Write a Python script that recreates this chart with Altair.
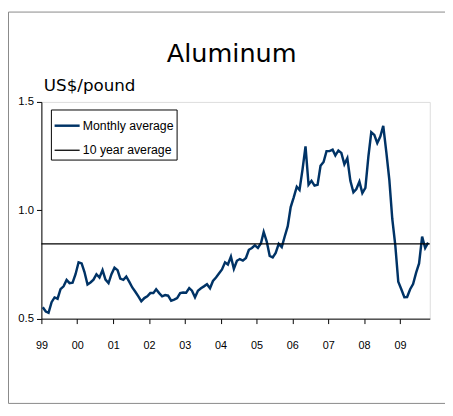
import altair as alt
import pandas as pd

NARROW = "Liberation Sans, Arial, sans-serif"
WIDE = "DejaVu Sans, Verdana, sans-serif"

series_names = ["Monthly average", "10 year average"]
series_colors = ["#003366", "#000000"]
series_widths = [2.5, 1.3]

years = list(range(1999, 2010))
y_ticks = [0.5, 1.0, 1.5]

# US$/pound, monthly averages Jan 1999 - Oct 2009
values = [
    0.553, 0.533, 0.527, 0.576, 0.598, 0.592, 0.636, 0.649, 0.679, 0.664, 0.666, 0.705,  # 1999
    0.760, 0.755, 0.715, 0.658, 0.667, 0.680, 0.705, 0.690, 0.724, 0.680, 0.664, 0.705,  # 2000
    0.735, 0.724, 0.685, 0.679, 0.694, 0.670, 0.644, 0.624, 0.603, 0.580, 0.595, 0.603,  # 2001
    0.618, 0.618, 0.636, 0.618, 0.603, 0.609, 0.606, 0.583, 0.588, 0.595, 0.618, 0.621,  # 2002
    0.620, 0.641, 0.629, 0.599, 0.629, 0.640, 0.649, 0.659, 0.640, 0.674, 0.690, 0.708,  # 2003
    0.727, 0.760, 0.750, 0.786, 0.730, 0.767, 0.775, 0.768, 0.780, 0.818, 0.826, 0.838,  # 2004
    0.826, 0.848, 0.900, 0.856, 0.790, 0.783, 0.803, 0.845, 0.830, 0.879, 0.927, 1.015,  # 2005
    1.060, 1.109, 1.094, 1.190, 1.295, 1.118, 1.136, 1.114, 1.118, 1.205, 1.223, 1.273,  # 2006
    1.273, 1.280, 1.253, 1.276, 1.265, 1.212, 1.240, 1.136, 1.083, 1.098, 1.132, 1.079,  # 2007
    1.103, 1.250, 1.360, 1.348, 1.310, 1.340, 1.390, 1.270, 1.140, 0.960, 0.837, 0.670,  # 2008
    0.636, 0.599, 0.600, 0.636, 0.660, 0.712, 0.755, 0.879, 0.826, 0.851,                # 2009
]
ten_year_average = 0.845

dates = [f"{1999 + i // 12}-{i % 12 + 1:02d}-15" for i in range(len(values))]

monthly = pd.DataFrame({"date": dates, "price": values, "series": series_names[0]})
average = pd.DataFrame({"series": [series_names[1]], "price": [ten_year_average]})

legend = alt.Legend(
    title=None, orient="none", legendX=9.7, legendY=7.7, direction="vertical",
    symbolType="stroke", symbolSize=650, labelFont=NARROW, labelFontSize=12.5,
    labelColor="black", strokeColor="black", fillColor="white", padding=2.5,
    rowPadding=4.5, labelOffset=2, cornerRadius=0,
)

color = alt.Color("series:N", scale=alt.Scale(domain=series_names, range=series_colors), legend=legend)
swidth = alt.StrokeWidth("series:N", scale=alt.Scale(type="ordinal", domain=series_names, range=series_widths), legend=legend)

x_enc = alt.X(
    "date:T",
    scale=alt.Scale(type="utc", domain=[alt.DateTime(year=1999, month=1, date=1, utc=True),
                                        alt.DateTime(year=2009, month=11, date=1, utc=True)]),
    axis=alt.Axis(
        values=[alt.DateTime(year=y, month=1, date=1, utc=True) for y in years],
        labelExpr="utcFormat(datum.value, '%y')", title=None, grid=False,
        labelFont=NARROW, labelFontSize=11, labelColor="black", labelPadding=16,
        tickSize=5, tickColor="black", domainColor="black", labelFlush=False,
    ),
)
y_scale = alt.Scale(domain=[0.5, 1.5], nice=False, zero=False)
y_axis = alt.Axis(
    values=y_ticks, format=".1f", title="US$/pound", titleAngle=0, titleX=2, titleY=-12,
    titleAlign="left", titleBaseline="alphabetic", titleFont=WIDE, titleFontSize=17,
    titleFontWeight="normal", titleColor="black", labelFont=NARROW, labelFontSize=11.5,
    labelColor="black", tickSize=5, tickColor="black", domainColor="black",
    labelPadding=3, grid=False,
)

frame = alt.Chart(alt.Data(values=[{}])).mark_rect(
    fillOpacity=0, stroke="#888888", strokeWidth=1
).encode(x=alt.value(-33.5), x2=alt.value(430), y=alt.value(-91.5), y2=alt.value(307))

line = alt.Chart(monthly).mark_line().encode(
    x=x_enc,
    y=alt.Y("price:Q", scale=y_scale, axis=y_axis),
    color=color,
    strokeWidth=swidth,
)

rule = alt.Chart(average).mark_rule().encode(
    y=alt.Y("price:Q", scale=y_scale),
    color=color,
    strokeWidth=swidth,
)

chart = alt.layer(frame, line, rule).properties(
    width=395.5, height=220.7,
    title=alt.TitleParams("Aluminum", font=WIDE, fontSize=26, fontWeight="normal",
                          color="black", anchor="middle", frame="group", dx=-4,
                          offset=-77.5, baseline="alphabetic"),
    autosize=alt.AutoSizeParams(type="none"),
    padding={"left": 34, "top": 92, "right": 15.5, "bottom": 87},
).configure_view(stroke="#808080", strokeWidth=1).configure(background="white")

chart.save("out.html", embed_options={"renderer": "svg", "actions": False})
